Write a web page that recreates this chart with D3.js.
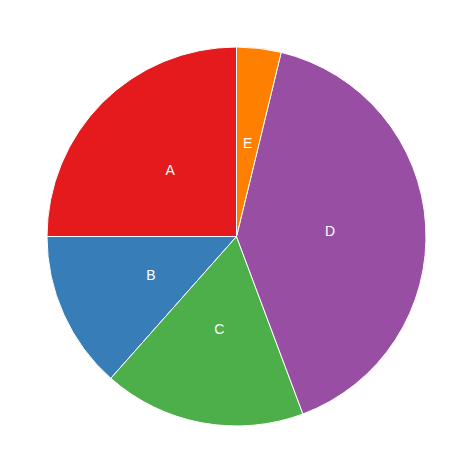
<!DOCTYPE html>
<html>

<head>
    <meta charset="utf-8">
    <script src="https://d3js.org/d3.v7.min.js"></script>
    <style>
        body { margin: 0; background: #ffffff; }
    </style>
</head>

<body>
    <svg id="pie_svg" width="474" height="474"></svg>
    <script>
        // slice data, counterclockwise from 12 o'clock
        const labels = ["A", "B", "C", "D", "E"];
        const values = [25, 13.46, 17.24, 40.51, 3.79];
        const colors = ["#e41a1c", "#377eb8", "#4daf4a", "#984ea3", "#ff7f00"];

        const svg = d3.select("#pie_svg");
        const cx = 236.5, cy = 236.5;
        const radius = 189.5;

        const data = labels.map((l, i) => ({ label: l, value: values[i], color: colors[i] }));

        const pie = d3.pie()
            .value(d => d.value)
            .sort(null)
            .startAngle(0)
            .endAngle(-2 * Math.PI);

        const arc = d3.arc().innerRadius(0).outerRadius(radius);
        const labelArc = d3.arc().innerRadius(radius * 0.495).outerRadius(radius * 0.495);

        let g = svg.append("g")
            .attr("transform", "translate(" + cx + "," + cy + ")");

        const arcs = pie(data);

        g.selectAll("path")
            .data(arcs)
            .join("path")
            .attr("d", arc)
            .attr("fill", d => d.data.color)
            .attr("stroke", "#ffffff")
            .attr("stroke-width", 1)
            .attr("stroke-linejoin", "round");

        g.selectAll("text")
            .data(arcs)
            .join("text")
            .attr("transform", d => "translate(" + labelArc.centroid(d) + ")")
            .attr("text-anchor", "middle")
            .attr("dominant-baseline", "central")
            .attr("fill", "#ffffff")
            .attr("font-family", "'Liberation Sans', Arial, sans-serif")
            .attr("font-size", "14px")
            .text(d => d.data.label);
    </script>
</body>

</html>
